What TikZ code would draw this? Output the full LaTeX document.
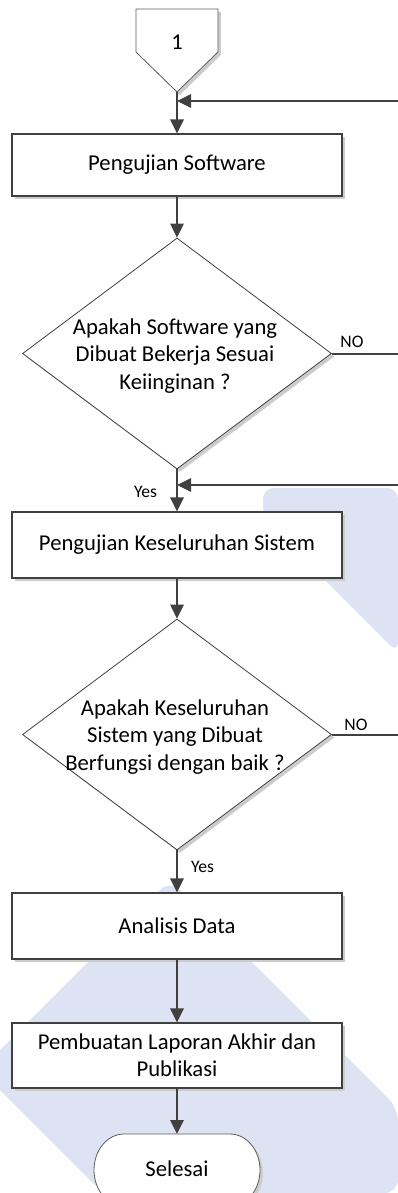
\documentclass[tikz,border=0pt]{standalone}
\usepackage{fontspec}
\setmainfont{Carlito}
\usetikzlibrary{arrows.meta,shapes.geometric,shadows}
\definecolor{ln}{HTML}{404040}
\definecolor{wm}{HTML}{DDE3F2}
\begin{document}
\begin{tikzpicture}[x=0.75pt,y=-0.75pt,
  txt/.style={font=\fontsize{17}{20.5}\selectfont, align=center, inner sep=0pt},
  lbl/.style={font=\fontsize{13.2}{15}\selectfont, inner sep=0pt},
  shad/.style={drop shadow={shadow xshift=2.2pt, shadow yshift=-2.2pt, fill=black!20, opacity=1}},
  procbox/.style={draw=ln, line width=0.9pt, fill=white, inner sep=0pt, minimum width=247.5pt, shad, font=\fontsize{17}{20}\selectfont, align=center},
  decbox/.style={diamond, draw=ln, line width=0.6pt, fill=white, inner sep=0pt, minimum width=231.75pt, minimum height=173.25pt, shad},
  flow/.style={draw=ln, line width=1.5pt, -{Triangle[length=10.5pt,width=10pt]}},
  plain/.style={draw=ln, line width=1.5pt}
]
\useasboundingbox (0,0) rectangle (398,1193);
\clip (0,0) rectangle (398,1193);
% watermark
\fill[wm, rounded corners=10pt] (170,880) -- (398,1108) -- (398,1193) -- (103,1193) -- (-20,1070) -- cycle;
\fill[wm, rounded corners=8pt] (263,518) -- (263,488) -- (398,488) -- (398,653) -- cycle;

% off-page connector
\draw[draw=ln!85, line width=0.6pt, fill=white, shad] (136,9) -- (218,9) -- (218,52) -- (177,92) -- (136,52) -- cycle;
\node[txt] (c1) at (177,42) {1};
\coordinate (c1b) at (177,92);
\coordinate (j1) at (177,101);
\coordinate (r1) at (398,101);

\node[procbox, minimum height=46.5pt] (b1) at (177,165) {Pengujian Software};

\node[decbox] (d1) at (177,353.5) {};
\node[txt] (d1t) at (175,356) {Apakah Software yang\\Dibuat Bekerja Sesuai\\Keiinginan ?};
\coordinate (n1) at (398,353.5);
\node[lbl] (no1) at (352,342) {NO};
\node[lbl] (yes1) at (145.5,492) {Yes};
\coordinate (j2) at (177,485);
\coordinate (r2) at (398,485);

\node[procbox, minimum height=49.5pt] (b2) at (177,545) {Pengujian Keseluruhan Sistem};

\node[decbox] (d2) at (177,734.5) {};
\node[txt] (d2t) at (175,737) {Apakah Keseluruhan\\Sistem yang Dibuat\\Berfungsi dengan baik ?};
\coordinate (n2) at (398,734.5);
\node[lbl] (no2) at (356,725) {NO};
\node[lbl] (yes2) at (202.5,867) {Yes};

\node[procbox, minimum height=49.5pt] (b3) at (177,926) {Analisis Data};
\node[procbox, minimum height=48.75pt] (b4) at (177,1055.5) {Pembuatan Laporan Akhir dan\\Publikasi};

% terminator
\draw[draw=ln!85, line width=0.6pt, fill=white, shad] (124,1134) -- (230,1134) arc[start angle=-90, end angle=90, x radius=30, y radius=36] -- (124,1206) arc[start angle=90, end angle=270, x radius=30, y radius=36] -- cycle;
\node[txt] (end) at (177,1169) {Selesai};
\coordinate (endtop) at (177,1134);

% connectors
\draw[flow] (c1b) -- (b1.north);
\draw[flow] (r1) -- (j1);
\draw[flow] (b1.south) -- (d1.north);
\draw[plain] (d1.east) -- (n1);
\draw[flow] (d1.south) -- (b2.north);
\draw[flow] (r2) -- (j2);
\draw[flow] (b2.south) -- (d2.north);
\draw[plain] (d2.east) -- (n2);
\draw[flow] (d2.south) -- (b3.north);
\draw[flow] (b3.south) -- (b4.north);
\draw[flow] (b4.south) -- (endtop);
\end{tikzpicture}
\end{document}
